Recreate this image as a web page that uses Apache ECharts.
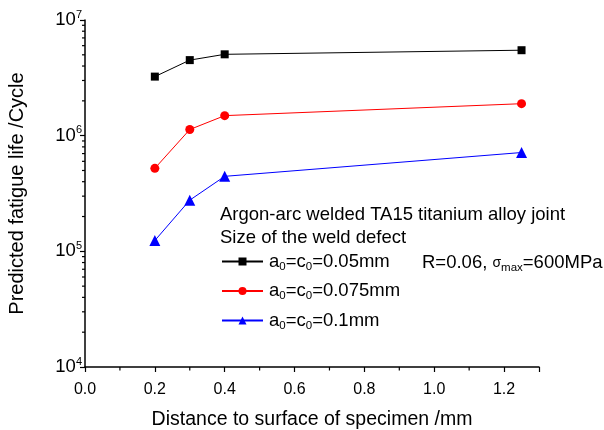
<!DOCTYPE html>
<html>
<head>
<meta charset="utf-8">
<script src="https://cdn.jsdelivr.net/npm/echarts@6/dist/echarts.min.js"></script>
<style>
  html, body { margin: 0; padding: 0; background: #fff; }
  #main { width: 604px; height: 430px; }
</style>
</head>
<body>
<div id="main"></div>
<script>
// distance to surface (mm)
const distances = [0.2, 0.3, 0.4, 1.25]
// predicted fatigue life (cycles) for each weld defect size
const life005 = [3.24e6, 4.5e6, 5.05e6, 5.48e6]
const life0075 = [5.22e5, 1.13e6, 1.49e6, 1.89e6]
const life01 = [1.24e5, 2.77e5, 4.45e5, 7.15e5]
const seriesNames = ['a0=c0=0.05mm', 'a0=c0=0.075mm', 'a0=c0=0.1mm']
const sizeLabels = ['0.05mm', '0.075mm', '0.1mm']

const FONT = 'Liberation Sans, Arial, sans-serif'
const pairs = (ys) => distances.map((x, i) => [x, ys[i]])

// log minor ticks 2..9 per decade (axis decoration)
const yMinor = []
for (let e = 4; e < 7; e++) {
  for (let m = 2; m <= 9; m++) yMinor.push([0, m * Math.pow(10, e)])
}
const xMinor = [[0.1, 1e4], [0.3, 1e4], [0.5, 1e4], [0.7, 1e4], [0.9, 1e4], [1.1, 1e4]]

const subRich = {
  n: { fontSize: 18.5, fontFamily: FONT, fontWeight: 'normal', color: '#000', lineHeight: 22 },
  s: { fontSize: 11.5, fontFamily: FONT, fontWeight: 'normal', color: '#000', lineHeight: 9, verticalAlign: 'bottom' }
}
const plainText = { fontSize: 18.5, fontWeight: 'normal', fontFamily: FONT, color: '#000' }

var myChart = echarts.init(document.getElementById('main'))
myChart.setOption({
  animation: false,
  backgroundColor: '#fff',
  grid: { left: 85, right: 65, top: 20, bottom: 63, outerBoundsMode: 'none', containLabel: false },
  title: [
    {
      text: 'Argon-arc welded TA15 titanium alloy joint',
      left: 220, top: 205, padding: 0,
      textStyle: plainText
    },
    {
      text: 'Size of the weld defect',
      left: 220, top: 228, padding: 0,
      textStyle: plainText
    },
    {
      text: '{n|R=0.06, }{g|σ}{s|max}{n|=600MPa}',
      left: 422, top: 252, padding: 0,
      textStyle: {
        rich: {
          n: subRich.n,
          g: { fontSize: 14, fontFamily: FONT, fontWeight: 'normal', color: '#000', lineHeight: 22 },
          s: subRich.s
        }
      }
    }
  ],
  legend: {
    orient: 'vertical',
    left: 221, top: 252,
    padding: 0,
    itemWidth: 41, itemHeight: 10,
    itemGap: 9,
    data: seriesNames,
    formatter: (name) => {
      const i = seriesNames.indexOf(name)
      return '{n|a}{s|0}{n|=c}{s|0}{n|=' + sizeLabels[i] + '}'
    },
    textStyle: { rich: subRich, padding: [0, 0, 0, 1] }
  },
  xAxis: {
    type: 'value',
    min: 0, max: 1.3, interval: 0.2,
    name: 'Distance to surface of specimen /mm',
    nameLocation: 'middle',
    nameGap: 43,
    nameTextStyle: { fontSize: 19.5, fontFamily: FONT, color: '#000' },
    axisLine: { lineStyle: { color: '#000', width: 1.5 } },
    axisTick: { inside: false, length: 5, lineStyle: { color: '#000', width: 1.2 } },
    axisLabel: {
      margin: 15,
      fontSize: 16, fontFamily: FONT, color: '#000',
      formatter: (v) => (Math.abs(v - 1.3) < 1e-6 ? '' : v.toFixed(1)),
      showMaxLabel: true
    },
    splitLine: { show: false }
  },
  yAxis: {
    type: 'log',
    logBase: 10,
    min: 1e4, max: 1e7,
    name: 'Predicted fatigue life /Cycle',
    nameLocation: 'middle',
    nameGap: 58,
    nameTextStyle: { fontSize: 20, fontFamily: FONT, color: '#000' },
    axisLine: { show: true, lineStyle: { color: '#000', width: 1.5 } },
    axisTick: { inside: false, length: 5, lineStyle: { color: '#000', width: 1.2 } },
    axisLabel: {
      margin: 3,
      formatter: (v) => '{b|10}{s|' + Math.round(Math.log10(v)) + '}',
      rich: {
        b: { fontSize: 18.5, fontFamily: FONT, color: '#000', lineHeight: 22 },
        s: { fontSize: 11, fontFamily: FONT, color: '#000', lineHeight: 11, verticalAlign: 'top' }
      }
    },
    splitLine: { show: false }
  },
  series: [
    {
      name: seriesNames[0], type: 'line', data: pairs(life005),
      symbol: 'rect', symbolSize: 8,
      lineStyle: { color: '#000', width: 1 },
      itemStyle: { color: '#000' }
    },
    {
      name: seriesNames[1], type: 'line', data: pairs(life0075),
      symbol: 'circle', symbolSize: 9,
      lineStyle: { color: '#ff0000', width: 1 },
      itemStyle: { color: '#ff0000' }
    },
    {
      name: seriesNames[2], type: 'line', data: pairs(life01),
      symbol: 'triangle', symbolSize: 11,
      lineStyle: { color: '#0000ff', width: 1 },
      itemStyle: { color: '#0000ff' }
    },
    {
      // minor ticks on the y axis
      type: 'custom', silent: true, data: yMinor,
      renderItem: (params, api) => {
        const p = api.coord([api.value(0), api.value(1)])
        return { type: 'line', shape: { x1: p[0] - 3, y1: p[1], x2: p[0], y2: p[1] }, style: { stroke: '#000', lineWidth: 1.2 } }
      }
    },
    {
      // minor ticks on the x axis
      type: 'custom', silent: true, data: xMinor,
      renderItem: (params, api) => {
        const p = api.coord([api.value(0), api.value(1)])
        return { type: 'line', shape: { x1: p[0], y1: p[1], x2: p[0], y2: p[1] + 3.5 }, style: { stroke: '#000', lineWidth: 1.2 } }
      }
    }
  ]
})
</script>
</body>
</html>
